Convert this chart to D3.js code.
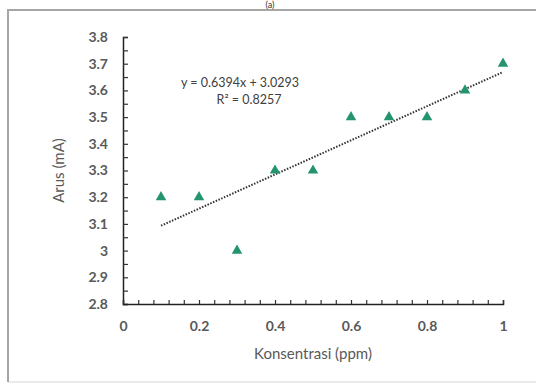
<!DOCTYPE html>
<html><head><meta charset="utf-8">
<script src="https://cdn.jsdelivr.net/npm/d3@7"></script>
<style>body{margin:0;background:#fff}svg{display:block}</style>
</head><body>
<script>
const konsentrasi = [0.1,0.2,0.3,0.4,0.5,0.6,0.7,0.8,0.9,1.0];
const arus = [3.2,3.2,3.0,3.3,3.3,3.5,3.5,3.5,3.6,3.7];
const xTicks = [0,0.2,0.4,0.6,0.8,1];
const yTicks = [2.8,2.9,3.0,3.1,3.2,3.3,3.4,3.5,3.6,3.7,3.8];
const trendSlope = 0.6394, trendIntercept = 3.0293, rSquared = 0.8257;

const W=536,H=387;
const svg=d3.select("body").append("svg").attr("width",W).attr("height",H);
const font="Lato, 'Open Sans', sans-serif";
svg.append("line").attr("x1",8).attr("y1",382).attr("x2",W).attr("y2",382).attr("stroke","#e4e4e4").attr("stroke-width",1.5);
svg.append("path").attr("d",`M8,382V10H${W}`).attr("fill","none").attr("stroke","#a6a6a6").attr("stroke-width",2);
svg.append("text").attr("x",270).attr("y",8).attr("text-anchor","middle")
  .attr("font-family",font).attr("font-size",9).attr("fill","#333").text("(a)");

const x=d3.scaleLinear().domain([0,1]).range([123,503]);
const y=d3.scaleLinear().domain([2.8,3.8]).range([304,37]);
const grey="#595959";

const yMinor=d3.range(2.8,3.8001,0.05);
const xMinor=d3.range(0,1.0001,0.04);
const yAx=svg.append("g").attr("transform",`translate(${x(0)},0)`)
  .call(d3.axisRight(y).tickValues(yMinor).tickSize(5).tickFormat(""));
const xAx=svg.append("g").attr("transform",`translate(0,${y(2.8)})`)
  .call(d3.axisTop(x).tickValues(xMinor).tickSize(4).tickFormat(""));
[yAx,xAx].forEach(g=>{g.select(".domain").attr("stroke","#222").attr("stroke-width",1.5);
  g.selectAll(".tick line").attr("stroke","#333").attr("stroke-width",1.2);});

const yLab=svg.append("g").attr("transform",`translate(${x(0)-12},0)`)
  .call(d3.axisLeft(y).tickValues(yTicks).tickSize(0).tickFormat(d=>d3.format("")(+d.toFixed(1))));
const xLab=svg.append("g").attr("transform",`translate(0,${y(2.8)+14})`)
  .call(d3.axisBottom(x).tickValues(xTicks).tickSize(0).tickFormat(d=>d3.format("")(+d.toFixed(1))));
[yLab,xLab].forEach(g=>{g.select(".domain").remove();
  g.selectAll("text").attr("font-family",font).attr("font-size",14).attr("font-weight","bold").attr("fill",grey);});

svg.append("text").attr("x",313).attr("y",359).attr("text-anchor","middle")
  .attr("font-family",font).attr("font-size",15).attr("fill",grey).text("Konsentrasi (ppm)");
svg.append("text").attr("transform",`translate(64,${y(3.3)}) rotate(-90)`).attr("text-anchor","middle")
  .attr("font-family",font).attr("font-size",15).attr("fill",grey).text("Arus (mA)");

const x0=d3.min(konsentrasi), x1=d3.max(konsentrasi);
svg.append("line").attr("x1",x(x0)).attr("y1",y(trendIntercept+trendSlope*x0))
  .attr("x2",x(x1)).attr("y2",y(trendIntercept+trendSlope*x1))
  .attr("stroke","#333").attr("stroke-width",2).attr("stroke-dasharray","1.5,1.5");

svg.selectAll(".pt").data(konsentrasi).enter().append("path")
  .attr("d",d3.symbol(d3.symbolTriangle,48))
  .attr("transform",(d,i)=>`translate(${x(d)},${y(arus[i])})`)
  .attr("fill","#23946f");

svg.append("text").attr("x",240).attr("y",87).attr("text-anchor","middle")
  .attr("font-family",font).attr("font-size",12.5).attr("fill","#404040")
  .text(`y = ${trendSlope}x + ${trendIntercept}`);
svg.append("text").attr("x",249).attr("y",104).attr("text-anchor","middle")
  .attr("font-family",font).attr("font-size",12.5).attr("fill","#404040")
  .text(`R² = ${rSquared}`);
</script>
</body></html>
